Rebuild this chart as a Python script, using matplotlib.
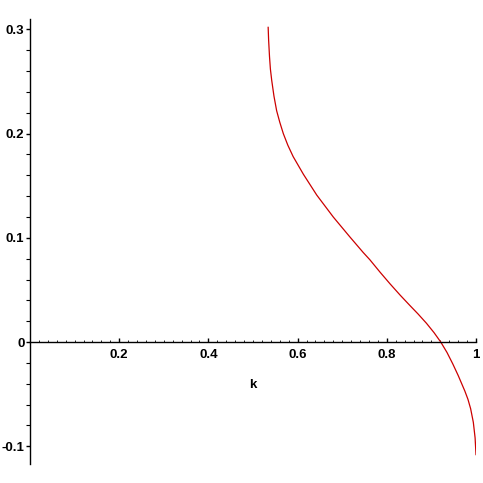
import matplotlib
matplotlib.use("Agg")
import matplotlib.pyplot as plt
from matplotlib.ticker import MultipleLocator, FixedLocator

# values
k = [0.534, 0.535, 0.537, 0.539, 0.542, 0.547, 0.553, 0.560, 0.568, 0.578,
     0.590, 0.613, 0.643, 0.680, 0.717, 0.747, 0.762, 0.785, 0.807, 0.830,
     0.852, 0.870, 0.889, 0.906, 0.921, 0.935, 0.948, 0.960, 0.975, 0.982,
     0.988, 0.994, 0.998, 1.000]
val = [0.302, 0.290, 0.274, 0.262, 0.251, 0.236, 0.222, 0.211, 0.200, 0.189,
       0.178, 0.161, 0.141, 0.120, 0.101, 0.086, 0.079, 0.067, 0.056, 0.045,
       0.035, 0.027, 0.018, 0.009, 0.000, -0.010, -0.021, -0.032, -0.047, -0.055,
       -0.064, -0.077, -0.092, -0.108]

xticks = [0.2, 0.4, 0.6, 0.8, 1.0]
xlabels = ["0.2", "0.4", "0.6", "0.8", "1"]
yticks = [-0.1, 0.0, 0.1, 0.2, 0.3]
ylabels = ["-0.1", "0", "0.1", "0.2", "0.3"]

plt.rcParams["font.family"] = ["Liberation Sans", "DejaVu Sans"]

fig = plt.figure(figsize=(4.83, 4.83), dpi=100)
ax = fig.add_axes([30 / 483, 19 / 483, 446 / 483, 445 / 483])

ax.plot(k, val, color="#cc0000", lw=0.9)

ax.set_xlim(0, 1)
ax.set_ylim(-0.117, 0.31)

ax.spines["top"].set_visible(False)
ax.spines["right"].set_visible(False)
ax.spines["bottom"].set_position(("data", 0))
ax.spines["left"].set_linewidth(1)
ax.spines["bottom"].set_linewidth(1)

ax.xaxis.set_major_locator(FixedLocator(xticks))
ax.set_xticklabels(xlabels, fontweight="bold", fontsize=9.5)
ax.xaxis.set_minor_locator(MultipleLocator(0.02))
ax.tick_params(axis="x", which="major", direction="in", length=3, width=1, pad=5)
ax.tick_params(axis="x", which="minor", direction="in", length=1.5, width=0.6)

ax.yaxis.set_major_locator(FixedLocator(yticks))
ax.set_yticklabels(ylabels, fontweight="bold", fontsize=9.5)
ax.yaxis.set_minor_locator(MultipleLocator(0.02))
ax.tick_params(axis="y", which="major", direction="out", length=3, width=1, pad=1)
ax.tick_params(axis="y", which="minor", direction="out", length=3, width=0.8)

ax.set_xlabel("k", fontweight="bold", fontsize=9.5)
ax.xaxis.set_label_coords(0.5, 0.19)

fig.savefig("out.png", dpi=100)
